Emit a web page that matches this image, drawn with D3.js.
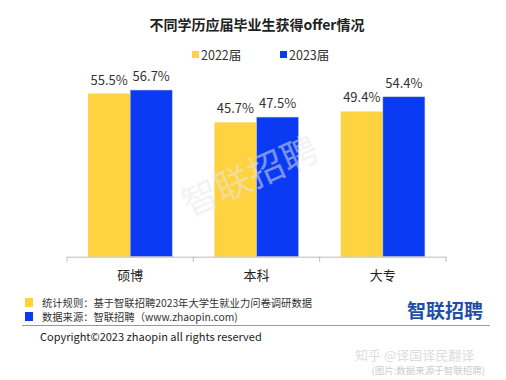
<!DOCTYPE html>
<html><head><meta charset="utf-8">
<script src="https://cdn.jsdelivr.net/npm/d3@7/dist/d3.min.js"></script>
<style>body{margin:0;background:#fff}svg{display:block}text{font-family:"Noto Sans CJK SC","Noto Sans",sans-serif}</style>
</head><body><svg id="c" width="506" height="380"></svg>
<script>
const categories = ["硕博", "本科", "大专"];
const seriesNames = ["2022届", "2023届"];
const values2022 = [55.5, 45.7, 49.4];
const values2023 = [56.7, 47.5, 54.4];
const colors = ["#FFD23F", "#0A3BF2"];

const svg = d3.select("#c");
const W = 506, H = 380;
svg.append("rect").attr("width", W).attr("height", H).attr("fill", "#fff");

// title
svg.append("text").attr("x", 257).attr("y", 30).attr("text-anchor", "middle")
  .attr("font-size", 14).attr("font-weight", "bold").attr("fill", "#222")
  .text("不同学历应届毕业生获得offer情况");

// legend
const leg = [{x: 192, name: seriesNames[0], c: colors[0]}, {x: 280, name: seriesNames[1], c: colors[1]}];
leg.forEach(l => {
  svg.append("rect").attr("x", l.x).attr("y", 51).attr("width", 7).attr("height", 7).attr("fill", l.c);
  svg.append("text").attr("x", l.x + 9).attr("y", 59.5).attr("font-size", 12.5).attr("fill", "#333").text(l.name);
});

const x0 = d3.scaleBand().domain(categories).range([67, 446]).paddingInner(0).paddingOuter(0);
const x1 = d3.scaleBand().domain(seriesNames).range([0, x0.bandwidth()]).paddingOuter(0.5).paddingInner(0);
const y = d3.scaleLinear().domain([0, 60]).range([256.7, 80.3]);

const g = svg.append("g");
const data = categories.map((c, i) => ({cat: c, vals: [values2022[i], values2023[i]]}));
data.forEach(d => {
  d.vals.forEach((v, j) => {
    const xx = x0(d.cat) + x1(seriesNames[j]);
    g.append("rect").attr("x", xx).attr("y", y(v)).attr("width", x1.bandwidth()).attr("height", y(0) - y(v))
      .attr("fill", colors[j]).attr("stroke", j === 0 ? "none" : "#c8ccd8").attr("stroke-width", j === 0 ? 0 : 0.6);
    g.append("text").attr("x", xx + x1.bandwidth() / 2).attr("y", y(v) - 9)
      .attr("text-anchor", "middle").attr("font-size", 13).attr("fill", "#333").text(v.toFixed(1) + "%");
  });
});

// axis
const ax = svg.append("g").attr("transform", `translate(0,${y(0)})`)
  .call(d3.axisBottom(x0).tickSize(0).tickFormat(d => d));
ax.select(".domain").attr("stroke", "#bbb");
ax.selectAll("text").attr("font-size", 13).attr("fill", "#222").attr("dy", "1.55em")
  .style("font-family", '"Noto Sans CJK SC",sans-serif');
const tickPos = categories.map(c => x0(c)).concat([x0(categories[2]) + x0.bandwidth()]);
tickPos.forEach(t => svg.append("line").attr("x1", t).attr("x2", t).attr("y1", y(0)).attr("y2", y(0) + 5).attr("stroke", "#bbb"));

// chart watermark
svg.append("text").attr("transform", "translate(255,188) rotate(-24)").attr("text-anchor", "middle")
  .attr("font-size", 36).attr("fill", "#e8e8e8").attr("opacity", 0.5).text("智联招聘");

// footer
svg.append("rect").attr("x", 25).attr("y", 298).attr("width", 8).attr("height", 9).attr("fill", colors[0]);
svg.append("rect").attr("x", 25).attr("y", 312).attr("width", 8).attr("height", 9).attr("fill", colors[1]);
svg.append("text").attr("x", 42).attr("y", 306.5).attr("font-size", 10.3).attr("fill", "#333").text("统计规则：基于智联招聘2023年大学生就业力问卷调研数据");
svg.append("text").attr("x", 42).attr("y", 321).attr("font-size", 10.3).attr("fill", "#333").text("数据来源：智联招聘（www.zhaopin.com)");
svg.append("text").attr("x", 483).attr("y", 318).attr("text-anchor", "end").attr("font-size", 19).attr("font-weight", "bold").attr("fill", "#1F4FA8").text("智联招聘");
svg.append("line").attr("x1", 22).attr("x2", 490).attr("y1", 325.5).attr("y2", 325.5).attr("stroke", "#999").attr("stroke-width", 1);
svg.append("text").attr("x", 40).attr("y", 341).attr("font-size", 11).attr("fill", "#222").text("Copyright©2023 zhaopin all rights reserved");

// bottom watermark
svg.append("text").attr("x", 355).attr("y", 360).attr("font-size", 13).attr("fill", "#ddd").text("知乎 @译国译民翻译");
svg.append("text").attr("x", 485).attr("y", 374).attr("text-anchor", "end").attr("font-size", 9.5).attr("fill", "#ccc").text("(图片:数据来源于智联招聘)");
</script></body></html>
